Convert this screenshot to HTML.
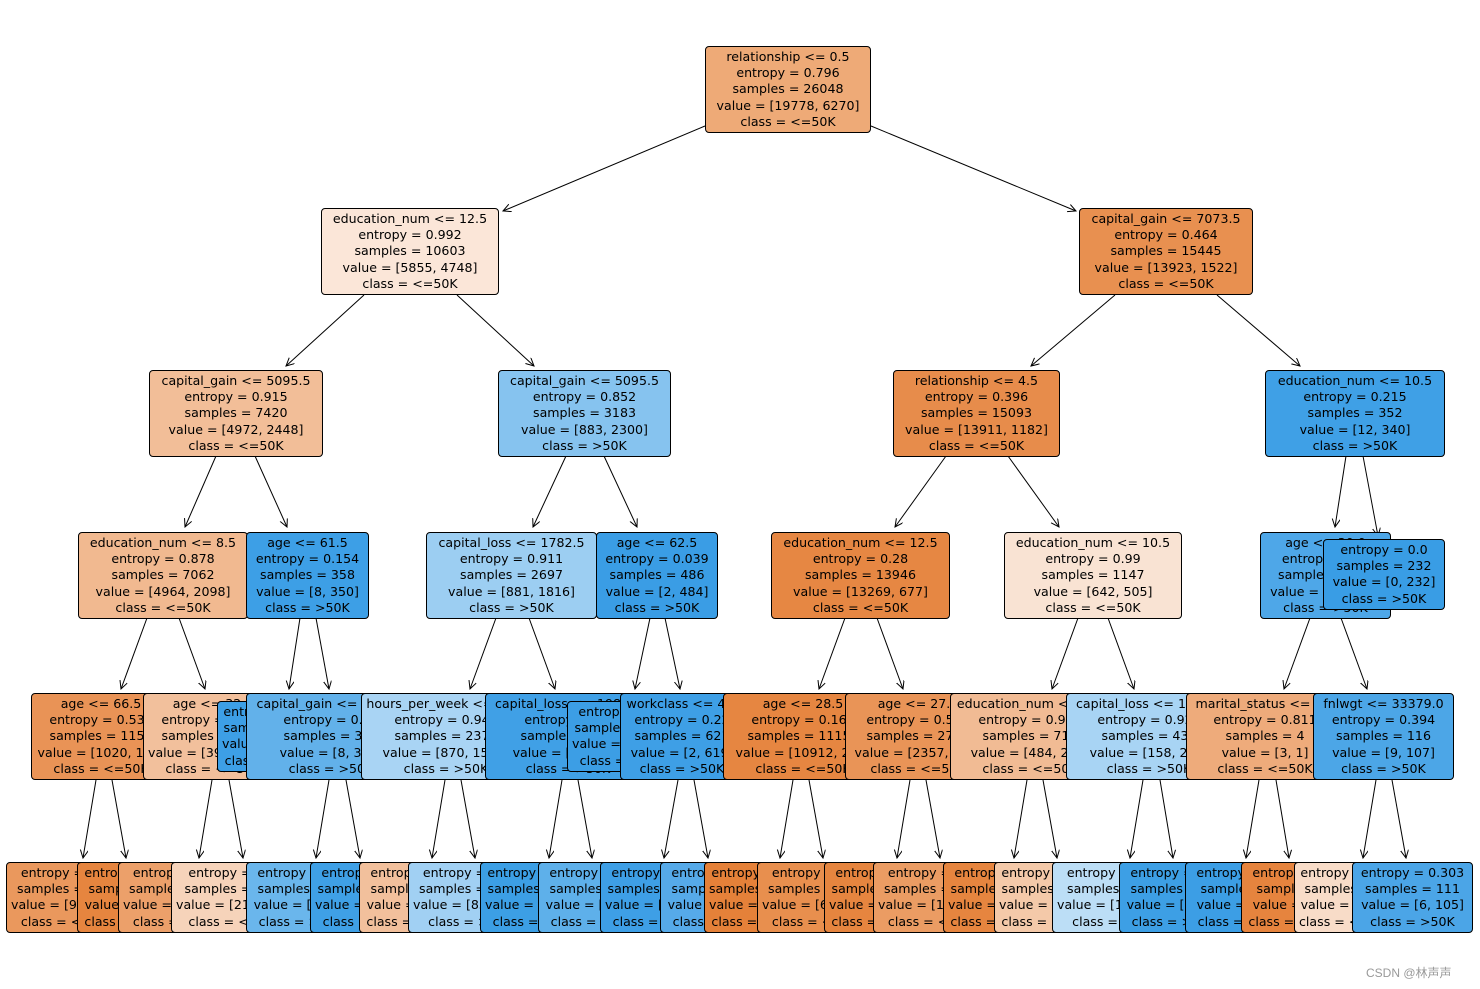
<!DOCTYPE html>
<html><head><meta charset="utf-8"><style>
body{margin:0;width:1480px;height:989px;background:#fff;position:relative;overflow:hidden}
.n{position:absolute;border:1px solid #000;border-radius:4px;padding:2px 4px;font:12.6px/16.2px "DejaVu Sans","Liberation Sans",sans-serif;text-align:center;white-space:nowrap;color:#000;box-sizing:border-box}
svg{position:absolute;left:0;top:0}
.wm{position:absolute;left:1366px;top:964px;font:12px "Liberation Sans","Noto Sans CJK SC",sans-serif;color:#999}
</style></head><body>
<svg width="1480" height="989"><defs><marker id="a" markerWidth="10" markerHeight="10" refX="8" refY="4" orient="auto" markerUnits="userSpaceOnUse"><path d="M0,0 L8,4 L0,8" fill="none" stroke="#000" stroke-width="1"/></marker></defs>
<g stroke="#000" stroke-width="1" marker-end="url(#a)">
<line x1="705" y1="126" x2="503" y2="211"/><line x1="871" y1="126" x2="1076" y2="211"/>
<line x1="364" y1="295" x2="286" y2="366"/><line x1="457" y1="295" x2="534" y2="366"/>
<line x1="1115" y1="295" x2="1031" y2="366"/><line x1="1217" y1="295" x2="1300" y2="366"/>
<line x1="216" y1="456" x2="185" y2="527"/><line x1="255" y1="456" x2="287" y2="527"/>
<line x1="566" y1="456" x2="533" y2="527"/><line x1="604" y1="456" x2="637" y2="527"/>
<line x1="946" y1="456" x2="895" y2="527"/><line x1="1008" y1="456" x2="1059" y2="527"/>
<line x1="1346" y1="456" x2="1335" y2="527"/><line x1="1363" y1="456" x2="1378" y2="536"/>
<line x1="147" y1="618" x2="121" y2="689"/><line x1="179" y1="618" x2="205" y2="689"/>
<line x1="300" y1="618" x2="289" y2="689"/><line x1="316" y1="618" x2="329" y2="689"/>
<line x1="496" y1="618" x2="470" y2="689"/><line x1="529" y1="618" x2="555" y2="689"/>
<line x1="650" y1="618" x2="635" y2="689"/><line x1="665" y1="618" x2="680" y2="689"/>
<line x1="845" y1="618" x2="819" y2="689"/><line x1="877" y1="618" x2="903" y2="689"/>
<line x1="1078" y1="618" x2="1052" y2="689"/><line x1="1108" y1="618" x2="1134" y2="689"/>
<line x1="1310" y1="618" x2="1284" y2="689"/><line x1="1341" y1="618" x2="1367" y2="689"/>
<line x1="96" y1="780" x2="83" y2="858"/><line x1="112" y1="780" x2="126" y2="858"/>
<line x1="212" y1="780" x2="199" y2="858"/><line x1="229" y1="780" x2="243" y2="858"/>
<line x1="329" y1="780" x2="316" y2="858"/><line x1="346" y1="780" x2="360" y2="858"/>
<line x1="445" y1="780" x2="432" y2="858"/><line x1="461" y1="780" x2="475" y2="858"/>
<line x1="562" y1="780" x2="549" y2="858"/><line x1="578" y1="780" x2="592" y2="858"/>
<line x1="678" y1="780" x2="664" y2="858"/><line x1="694" y1="780" x2="708" y2="858"/>
<line x1="793" y1="780" x2="780" y2="858"/><line x1="809" y1="780" x2="823" y2="858"/>
<line x1="910" y1="780" x2="897" y2="858"/><line x1="926" y1="780" x2="940" y2="858"/>
<line x1="1027" y1="780" x2="1014" y2="858"/><line x1="1043" y1="780" x2="1057" y2="858"/>
<line x1="1143" y1="780" x2="1130" y2="858"/><line x1="1160" y1="780" x2="1173" y2="858"/>
<line x1="1259" y1="780" x2="1246" y2="858"/><line x1="1276" y1="780" x2="1289" y2="858"/>
<line x1="1376" y1="780" x2="1363" y2="858"/><line x1="1392" y1="780" x2="1406" y2="858"/>
</g></svg>

<div class="n" style="left:705px;top:46px;width:166px;background:#eeaa77">relationship &lt;= 0.5<br>entropy = 0.796<br>samples = 26048<br>value = [19778, 6270]<br>class = &lt;=50K</div>

<div class="n" style="left:321px;top:208px;width:178px;background:#fbe6d8">education_num &lt;= 12.5<br>entropy = 0.992<br>samples = 10603<br>value = [5855, 4748]<br>class = &lt;=50K</div>
<div class="n" style="left:1079px;top:208px;width:174px;background:#e89050">capital_gain &lt;= 7073.5<br>entropy = 0.464<br>samples = 15445<br>value = [13923, 1522]<br>class = &lt;=50K</div>

<div class="n" style="left:149px;top:370px;width:174px;background:#f2be98">capital_gain &lt;= 5095.5<br>entropy = 0.915<br>samples = 7420<br>value = [4972, 2448]<br>class = &lt;=50K</div>
<div class="n" style="left:498px;top:370px;width:173px;background:#86c3ef">capital_gain &lt;= 5095.5<br>entropy = 0.852<br>samples = 3183<br>value = [883, 2300]<br>class = &gt;50K</div>
<div class="n" style="left:893px;top:370px;width:167px;background:#e78c4b">relationship &lt;= 4.5<br>entropy = 0.396<br>samples = 15093<br>value = [13911, 1182]<br>class = &lt;=50K</div>
<div class="n" style="left:1265px;top:370px;width:180px;background:#3fa0e6">education_num &lt;= 10.5<br>entropy = 0.215<br>samples = 352<br>value = [12, 340]<br>class = &gt;50K</div>

<div class="n" style="left:78px;top:532px;width:170px;background:#f1b990">education_num &lt;= 8.5<br>entropy = 0.878<br>samples = 7062<br>value = [4964, 2098]<br>class = &lt;=50K</div>
<div class="n" style="left:246px;top:532px;width:123px;background:#3d9fe6">age &lt;= 61.5<br>entropy = 0.154<br>samples = 358<br>value = [8, 350]<br>class = &gt;50K</div>
<div class="n" style="left:426px;top:532px;width:171px;background:#9ccef2">capital_loss &lt;= 1782.5<br>entropy = 0.911<br>samples = 2697<br>value = [881, 1816]<br>class = &gt;50K</div>
<div class="n" style="left:596px;top:532px;width:122px;background:#3a9de5">age &lt;= 62.5<br>entropy = 0.039<br>samples = 486<br>value = [2, 484]<br>class = &gt;50K</div>
<div class="n" style="left:771px;top:532px;width:179px;background:#e68743">education_num &lt;= 12.5<br>entropy = 0.28<br>samples = 13946<br>value = [13269, 677]<br>class = &lt;=50K</div>
<div class="n" style="left:1004px;top:532px;width:178px;background:#f9e3d3">education_num &lt;= 10.5<br>entropy = 0.99<br>samples = 1147<br>value = [642, 505]<br>class = &lt;=50K</div>
<div class="n" style="left:1260px;top:532px;width:131px;background:#4ea7e8">age &lt;= 30.0<br>entropy = 0.5<br>samples = 120<br>value = [12, 108]<br>class = &gt;50K</div>
<div class="n" style="left:1323px;top:539px;width:122px;height:71px;background:#399de5">entropy = 0.0<br>samples = 232<br>value = [0, 232]<br>class = &gt;50K</div>

<div class="n" style="left:31px;top:693px;width:140px;background:#e99356">age &lt;= 66.5<br>entropy = 0.535<br>samples = 1155<br>value = [1020, 135]<br>class = &lt;=50K</div>
<div class="n" style="left:143px;top:693px;width:140px;background:#f2c09c">age &lt;= 32.5<br>entropy = 0.895<br>samples = 5907<br>value = [3944, 1963]<br>class = &lt;=50K</div>
<div class="n" style="left:217px;top:701px;width:100px;height:71px;background:#3d9fe6">entropy = 0.0<br>samples = 31<br>value = [0, 31]<br>class = &gt;50K</div>
<div class="n" style="left:246px;top:693px;width:170px;background:#62b1ea">capital_gain &lt;= 7565.5<br>entropy = 0.17<br>samples = 327<br>value = [8, 319]<br>class = &gt;50K</div>
<div class="n" style="left:361px;top:693px;width:170px;background:#a9d4f4">hours_per_week &lt;= 44.5<br>entropy = 0.946<br>samples = 2378<br>value = [870, 1508]<br>class = &gt;50K</div>
<div class="n" style="left:485px;top:693px;width:166px;background:#40a0e6">capital_loss &lt;= 1989.5<br>entropy = 0.1<br>samples = 319<br>value = [11, 308]<br>class = &gt;50K</div>
<div class="n" style="left:567px;top:701px;width:110px;height:71px;background:#3c9ee5">entropy = 0.0<br>samples = 165<br>value = [0, 165]<br>class = &gt;50K</div>
<div class="n" style="left:620px;top:693px;width:124px;background:#3e9fe6">workclass &lt;= 4.5<br>entropy = 0.22<br>samples = 621<br>value = [2, 619]<br>class = &gt;50K</div>
<div class="n" style="left:723px;top:693px;width:160px;background:#e68641">age &lt;= 28.5<br>entropy = 0.164<br>samples = 11153<br>value = [10912, 241]<br>class = &lt;=50K</div>
<div class="n" style="left:845px;top:693px;width:146px;background:#e99457">age &lt;= 27.5<br>entropy = 0.504<br>samples = 2793<br>value = [2357, 436]<br>class = &lt;=50K</div>
<div class="n" style="left:950px;top:693px;width:160px;background:#f1bb94">education_num &lt;= 9.5<br>entropy = 0.977<br>samples = 711<br>value = [484, 227]<br>class = &lt;=50K</div>
<div class="n" style="left:1066px;top:693px;width:166px;background:#a8d4f4">capital_loss &lt;= 1794.0<br>entropy = 0.926<br>samples = 436<br>value = [158, 278]<br>class = &gt;50K</div>
<div class="n" style="left:1186px;top:693px;width:158px;background:#eeab7b">marital_status &lt;= 3.5<br>entropy = 0.811<br>samples = 4<br>value = [3, 1]<br>class = &lt;=50K</div>
<div class="n" style="left:1313px;top:693px;width:141px;background:#4ca6e7">fnlwgt &lt;= 33379.0<br>entropy = 0.394<br>samples = 116<br>value = [9, 107]<br>class = &gt;50K</div>

<div class="n" style="left:6px;top:862px;width:125px;height:71px;background:#ea985d">entropy = 0.55<br>samples = 1087<br>value = [948, 139]<br>class = &lt;=50K</div>
<div class="n" style="left:77px;top:862px;width:110px;height:71px;background:#e6853f">entropy = 0.14<br>samples = 68<br>value = [67, 1]<br>class = &lt;=50K</div>
<div class="n" style="left:118px;top:862px;width:125px;height:71px;background:#eca06a">entropy = 0.75<br>samples = 3012<br>value = [2380, 632]<br>class = &lt;=50K</div>
<div class="n" style="left:171px;top:862px;width:130px;height:71px;background:#f6d3ba">entropy = 0.97<br>samples = 2895<br>value = [2164, 731]<br>class = &lt;=50K</div>
<div class="n" style="left:246px;top:862px;width:110px;height:71px;background:#6ab6ec">entropy = 0.5<br>samples = 80<br>value = [8, 72]<br>class = &gt;50K</div>
<div class="n" style="left:310px;top:862px;width:110px;height:71px;background:#3fa0e6">entropy = 0.0<br>samples = 247<br>value = [0, 247]<br>class = &gt;50K</div>
<div class="n" style="left:359px;top:862px;width:110px;height:71px;background:#f2c09c">entropy = 0.9<br>samples = 19<br>value = [13, 6]<br>class = &lt;=50K</div>
<div class="n" style="left:408px;top:862px;width:125px;height:71px;background:#a1d0f3">entropy = 0.93<br>samples = 2359<br>value = [857, 1502]<br>class = &gt;50K</div>
<div class="n" style="left:480px;top:862px;width:110px;height:71px;background:#3c9fe5">entropy = 0.06<br>samples = 280<br>value = [2, 278]<br>class = &gt;50K</div>
<div class="n" style="left:538px;top:862px;width:110px;height:71px;background:#5eb0ea">entropy = 0.5<br>samples = 39<br>value = [9, 30]<br>class = &gt;50K</div>
<div class="n" style="left:600px;top:862px;width:110px;height:71px;background:#3e9fe6">entropy = 0.0<br>samples = 600<br>value = [0, 600]<br>class = &gt;50K</div>
<div class="n" style="left:660px;top:862px;width:110px;height:71px;background:#56aae9">entropy = 0.4<br>samples = 21<br>value = [2, 19]<br>class = &gt;50K</div>
<div class="n" style="left:704px;top:862px;width:110px;height:71px;background:#e58139">entropy = 0.05<br>samples = 4890<br>value = [4870, 20]<br>class = &lt;=50K</div>
<div class="n" style="left:757px;top:862px;width:125px;height:71px;background:#e88f4e">entropy = 0.22<br>samples = 6263<br>value = [6042, 221]<br>class = &lt;=50K</div>
<div class="n" style="left:824px;top:862px;width:110px;height:71px;background:#e6853f">entropy = 0.1<br>samples = 900<br>value = [888, 12]<br>class = &lt;=50K</div>
<div class="n" style="left:873px;top:862px;width:125px;height:71px;background:#eb9c63">entropy = 0.58<br>samples = 1893<br>value = [1469, 424]<br>class = &lt;=50K</div>
<div class="n" style="left:943px;top:862px;width:110px;height:71px;background:#e6853f">entropy = 0.1<br>samples = 400<br>value = [395, 5]<br>class = &lt;=50K</div>
<div class="n" style="left:994px;top:862px;width:110px;height:71px;background:#f4c9a9">entropy = 0.93<br>samples = 311<br>value = [89, 222]<br>class = &lt;=50K</div>
<div class="n" style="left:1052px;top:862px;width:125px;height:71px;background:#bcdef6">entropy = 0.96<br>samples = 380<br>value = [150, 230]<br>class = &gt;50K</div>
<div class="n" style="left:1119px;top:862px;width:110px;height:71px;background:#3d9fe5">entropy = 0.5<br>samples = 56<br>value = [8, 48]<br>class = &gt;50K</div>
<div class="n" style="left:1185px;top:862px;width:110px;height:71px;background:#3c9ee5">entropy = 0.0<br>samples = 1<br>value = [0, 1]<br>class = &gt;50K</div>
<div class="n" style="left:1241px;top:862px;width:110px;height:71px;background:#e6843e">entropy = 0.0<br>samples = 3<br>value = [3, 0]<br>class = &lt;=50K</div>
<div class="n" style="left:1294px;top:862px;width:100px;height:71px;background:#f8dcc8">entropy = 1.0<br>samples = 5<br>value = [3, 2]<br>class = &lt;=50K</div>
<div class="n" style="left:1352px;top:862px;width:121px;height:71px;background:#4ba5e7">entropy = 0.303<br>samples = 111<br>value = [6, 105]<br>class = &gt;50K</div>

<div class="wm">CSDN @林声声</div>
</body></html>
